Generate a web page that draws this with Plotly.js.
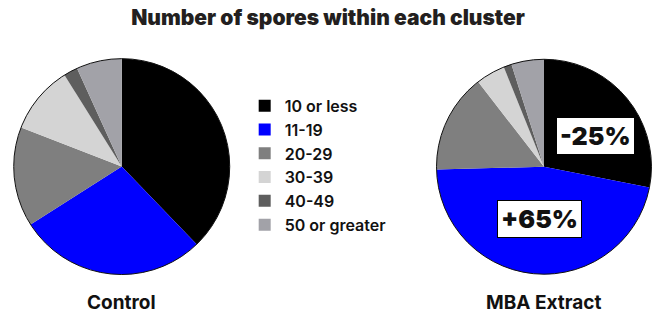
<!DOCTYPE html>
<html>
<head>
<meta charset="utf-8">
<script src="https://cdn.plot.ly/plotly-3.0.1.min.js"></script>
<style>html,body{margin:0;padding:0;background:#fff;}#chart{width:656px;height:317px;}</style>
</head>
<body>
<div id="chart"></div>
<script>
const categories = ['10 or less', '11-19', '20-29', '30-39', '40-49', '50 or greater'];
const controlValues = [37.8, 28.2, 14.9, 10.2, 2.1, 6.8];
const mbaValues = [28.1, 46.5, 14.9, 4.4, 1.2, 4.9];
const groupNames = ['Control', 'MBA Extract'];
const changeLabels = ['-25%', '+65%'];
const sliceColors = ['#000000', '#0000ff', '#7f7f7f', '#d4d4d4', '#5e5e5e', '#a2a2a8'];

const W = 656, H = 317;
const leftDom = {x: [0.0209, 0.3502], y: [0.134, 0.815]};
const rightDom = {x: [0.6654, 0.9931], y: [0.135, 0.813]};

function pie(values, dom, show) {
  return {
    type: 'pie', values: values, labels: categories, domain: dom,
    sort: false, direction: 'clockwise', rotation: 0,
    marker: {colors: sliceColors, line: {width: 0}},
    textinfo: 'none', hoverinfo: 'label+percent', showlegend: show
  };
}

function circleShape(dom) {
  return {type: 'circle', xref: 'paper', yref: 'paper',
    x0: dom.x[0], x1: dom.x[1], y0: dom.y[0], y1: dom.y[1],
    line: {color: '#111', width: 1}};
}

const labelFont = {family: 'Inter, Lato, sans-serif', size: 19, color: '#111', weight: 700};
const boxFont = {family: 'Inter, Lato, sans-serif', size: 25, color: '#111', weight: 900};

const layout = {
  width: W, height: H,
  margin: {l: 0, r: 0, t: 0, b: 0},
  paper_bgcolor: '#fff',
  title: {text: 'Number of spores within each cluster', x: 0.5, xanchor: 'center', y: 0.945, yanchor: 'middle',
    font: {family: 'Inter, Lato, sans-serif', size: 21, color: '#231f20', weight: 900}},
  showlegend: true,
  legend: {x: 0.373, xanchor: 'left', y: 0.72, yanchor: 'top', traceorder: 'normal',
    font: {family: 'Inter, Lato, sans-serif', size: 16, color: '#111', weight: 600},
    bgcolor: 'rgba(0,0,0,0)', tracegroupgap: 0, itemwidth: 30},
  shapes: [circleShape(leftDom), circleShape(rightDom)],
  annotations: [
    {text: groupNames[0], xref: 'paper', yref: 'paper', x: (leftDom.x[0] + leftDom.x[1]) / 2, y: 0.047,
      xanchor: 'center', yanchor: 'middle', showarrow: false, font: labelFont},
    {text: groupNames[1], xref: 'paper', yref: 'paper', x: (rightDom.x[0] + rightDom.x[1]) / 2, y: 0.047,
      xanchor: 'center', yanchor: 'middle', showarrow: false, font: labelFont},
    {text: changeLabels[0], xref: 'paper', yref: 'paper', x: 0.9085, y: 0.571, xanchor: 'center', yanchor: 'middle',
      showarrow: false, font: boxFont, bgcolor: '#fff', bordercolor: '#000', borderwidth: 1, borderpad: 3},
    {text: changeLabels[1], xref: 'paper', yref: 'paper', x: 0.8224, y: 0.309, xanchor: 'center', yanchor: 'middle',
      showarrow: false, font: boxFont, bgcolor: '#fff', bordercolor: '#000', borderwidth: 1, borderpad: 3}
  ]
};

Plotly.newPlot('chart', [pie(controlValues, leftDom, true), pie(mbaValues, rightDom, false)], layout, {displayModeBar: false, staticPlot: true});
</script>
</body>
</html>
